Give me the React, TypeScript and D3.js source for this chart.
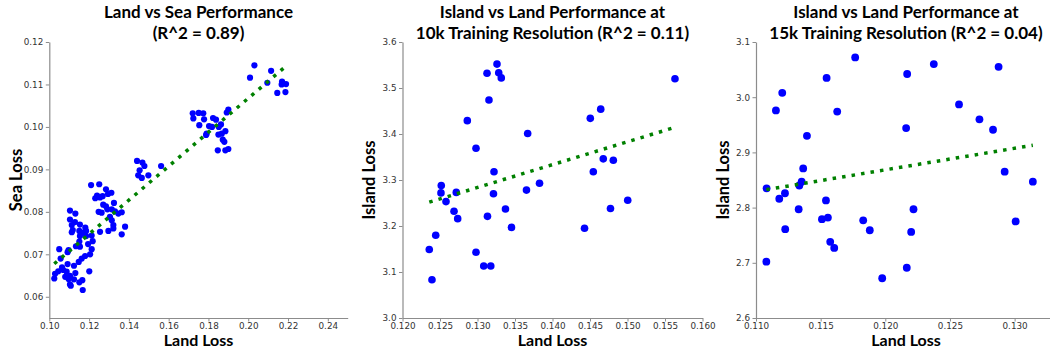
import React, { useEffect, useRef } from 'react';
import * as d3 from 'd3';

// Panel 1: land vs sea loss
const landLoss1 = [
  0.2031, 0.2009, 0.2115, 0.2096, 0.2170, 0.2190, 0.2168, 0.2146, 0.2187,
  0.1721, 0.1751, 0.1774, 0.1724, 0.1778, 0.1754, 0.1803, 0.1823, 0.1838, 0.1818, 0.1863, 0.1852,
  0.1791, 0.1788, 0.1850, 0.1867, 0.1885, 0.1872, 0.1880, 0.1847, 0.1885, 0.1900, 0.1900, 0.1892,
  0.1441, 0.1468, 0.1478, 0.1454, 0.1447, 0.1465, 0.1498, 0.1562,
  0.1210, 0.1251, 0.1285, 0.1240, 0.1231, 0.1255, 0.1295, 0.1312, 0.1268, 0.1325, 0.1271, 0.1285,
  0.1248, 0.1263, 0.1292, 0.1314, 0.1330, 0.1364, 0.1305, 0.1314, 0.1322, 0.1322, 0.1297, 0.1255,
  0.1381, 0.1364, 0.1347,
  0.1104, 0.1131, 0.1104, 0.1129, 0.1154, 0.1181, 0.1113, 0.1118, 0.1113, 0.1151, 0.1168, 0.1185,
  0.1154, 0.1185, 0.1213, 0.1218, 0.1195, 0.1151, 0.1134, 0.1154, 0.1213, 0.1097, 0.1050, 0.1092,
  0.1057, 0.1205, 0.1180, 0.1163, 0.1148, 0.1092, 0.1124, 0.1064, 0.1070, 0.1087, 0.1045, 0.1029,
  0.1080, 0.1104, 0.1131, 0.1201, 0.1025, 0.1097, 0.1124, 0.1166, 0.1104, 0.1108, 0.1151, 0.1168,
];
const seaLoss1 = [
  0.1145, 0.1116, 0.1132, 0.1104, 0.1107, 0.1101, 0.1100, 0.1080, 0.1082,
  0.1032, 0.1033, 0.1032, 0.1020, 0.1018, 0.1004, 0.1002, 0.1021, 0.1017, 0.1000, 0.1006, 0.1000,
  0.0984, 0.0981, 0.0982, 0.0984, 0.0990, 0.0970, 0.0965, 0.0945, 0.0945, 0.0948, 0.1041, 0.1034,
  0.0920, 0.0916, 0.0908, 0.0898, 0.0886, 0.0880, 0.0886, 0.0908,
  0.0863, 0.0865, 0.0853, 0.0838, 0.0832, 0.0834, 0.0842, 0.0845, 0.0837, 0.0821, 0.0817, 0.0813,
  0.0800, 0.0798, 0.0806, 0.0806, 0.0801, 0.0799, 0.0788, 0.0780, 0.0769, 0.0761, 0.0755, 0.0753,
  0.0765, 0.0747, 0.0796,
  0.0803, 0.0796, 0.0782, 0.0776, 0.0770, 0.0763, 0.0769, 0.0757, 0.0752, 0.0755, 0.0751, 0.0755,
  0.0743, 0.0743, 0.0744, 0.0731, 0.0724, 0.0730, 0.0719, 0.0718, 0.0712, 0.0710, 0.0712, 0.0705,
  0.0690, 0.0700, 0.0696, 0.0690, 0.0682, 0.0677, 0.0673, 0.0669, 0.0663, 0.0659, 0.0660, 0.0654,
  0.0647, 0.0649, 0.0656, 0.0660, 0.0643, 0.0642, 0.0641, 0.0639, 0.0629, 0.0626, 0.0634, 0.0616,
];

// Panel 2: island vs land at 10k
const landLoss2 = [
  0.13260, 0.13127, 0.13283, 0.13317, 0.13153, 0.12864, 0.12980, 0.13669, 0.15633, 0.14504,
  0.14643, 0.14677, 0.14811, 0.13220, 0.14544, 0.12517, 0.12513, 0.12580, 0.12717, 0.12687,
  0.12736, 0.12443, 0.12357, 0.12393, 0.12980, 0.13083, 0.13177, 0.13133, 0.13213, 0.13373,
  0.13453, 0.13653, 0.13827, 0.14427, 0.14773, 0.15003,
];
const islandLoss2 = [
  3.552, 3.532, 3.533, 3.522, 3.474, 3.429, 3.369, 3.401, 3.520, 3.434,
  3.454, 3.346, 3.343, 3.318, 3.318, 3.288, 3.272, 3.253, 3.273, 3.232,
  3.216, 3.180, 3.149, 3.083, 3.143, 3.113, 3.113, 3.221, 3.270, 3.237,
  3.197, 3.278, 3.293, 3.195, 3.238, 3.256,
];

// Panel 3: island vs land at 15k
const landLoss3 = [
  0.11154, 0.11203, 0.11394, 0.11365, 0.11546, 0.11628, 0.11767, 0.12169, 0.12161, 0.12375,
  0.12570, 0.12728, 0.12833, 0.12876, 0.12923, 0.11082, 0.11353, 0.11335, 0.11224, 0.11180,
  0.11330, 0.11226, 0.11080, 0.11541, 0.11510, 0.11556, 0.11574, 0.11605, 0.11829, 0.11880,
  0.11976, 0.12166, 0.12218, 0.12200, 0.13008, 0.13141,
];
const islandLoss3 = [
  2.976, 3.008, 2.930, 2.871, 3.035, 2.974, 3.072, 3.042, 2.944, 3.060,
  2.987, 2.960, 2.941, 3.055, 2.865, 2.835, 2.847, 2.840, 2.826, 2.816,
  2.797, 2.761, 2.702, 2.813, 2.779, 2.782, 2.738, 2.727, 2.777, 2.759,
  2.672, 2.691, 2.797, 2.756, 2.775, 2.847,
];

const titles = [
  ['Land vs Sea Performance', '(R^2 = 0.89)'],
  ['Island vs Land Performance at', '10k Training Resolution (R^2 = 0.11)'],
  ['Island vs Land Performance at', '15k Training Resolution (R^2 = 0.04)'],
];
const yLabels = ['Sea Loss', 'Island Loss', 'Island Loss'];
const xLabel = 'Land Loss';

const xTicks1 = [0.10, 0.12, 0.14, 0.16, 0.18, 0.20, 0.22, 0.24];
const yTicks1 = [0.06, 0.07, 0.08, 0.09, 0.10, 0.11, 0.12];
const xTicks2 = [0.120, 0.125, 0.130, 0.135, 0.140, 0.145, 0.150, 0.155, 0.160];
const yTicks2 = [3.0, 3.1, 3.2, 3.3, 3.4, 3.5, 3.6];
const xTicks3 = [0.110, 0.115, 0.120, 0.125, 0.130];
const yTicks3 = [2.6, 2.7, 2.8, 2.9, 3.0, 3.1];

const panels = [
  { xs: landLoss1, ys: seaLoss1, xDomain: [0.10, 0.25], yDomain: [0.055, 0.12], xTicks: xTicks1, yTicks: yTicks1, xFmt: '.2f', yFmt: '.2f', left: 49.3, width: 298.4, r: 3.1 },
  { xs: landLoss2, ys: islandLoss2, xDomain: [0.12, 0.16], yDomain: [3.0, 3.6], xTicks: xTicks2, yTicks: yTicks2, xFmt: '.3f', yFmt: '.1f', left: 402.5, width: 300, r: 3.8 },
  { xs: landLoss3, ys: islandLoss3, xDomain: [0.11, 0.1332], yDomain: [2.6, 3.1], xTicks: xTicks3, yTicks: yTicks3, xFmt: '.3f', yFmt: '.1f', left: 756, width: 300, r: 3.9 },
];

const top = 42, bottom = 318;
const boldFont = 'Lato, sans-serif';

// least squares fit
function fit(xs: number[], ys: number[]) {
  const mx = d3.mean(xs)!, my = d3.mean(ys)!;
  let sxy = 0, sxx = 0;
  xs.forEach((x, i) => { sxy += (x - mx) * (ys[i] - my); sxx += (x - mx) * (x - mx); });
  const slope = sxy / sxx;
  return { slope, intercept: my - slope * mx };
}

const App = () => {
  const ref = useRef<SVGSVGElement>(null);

  useEffect(() => {
    const svg = d3.select(ref.current);
    svg.selectAll('*').remove();

    panels.forEach((p, k) => {
      const x = d3.scaleLinear().domain(p.xDomain).range([p.left, p.left + p.width]);
      const y = d3.scaleLinear().domain(p.yDomain).range([bottom, top]);
      const g = svg.append('g');

      const xAxis = g.append('g')
        .attr('transform', `translate(0,${bottom})`)
        .call(d3.axisBottom(x).tickValues(p.xTicks).tickFormat(d3.format(p.xFmt)).tickSize(3.5).tickPadding(1.5).tickSizeOuter(0));
      const yAxis = g.append('g')
        .attr('transform', `translate(${p.left},0)`)
        .call(d3.axisLeft(y).tickValues(p.yTicks).tickFormat(d3.format(p.yFmt)).tickSize(3.5).tickPadding(2.5).tickSizeOuter(0));
      [xAxis, yAxis].forEach(a => {
        a.select('.domain').attr('stroke', '#8c8c8c').attr('stroke-width', 1.2);
        a.selectAll('.tick line').attr('stroke', '#8c8c8c');
        a.selectAll('.tick text').attr('fill', '#333').style('font-family', 'DejaVu Sans').style('font-size', '8.8px');
      });

      g.append('g').selectAll('circle')
        .data(p.xs)
        .enter().append('circle')
        .attr('cx', d => x(d))
        .attr('cy', (d, i) => y(p.ys[i]))
        .attr('r', p.r)
        .attr('fill', '#0000ff');

      const { slope, intercept } = fit(p.xs, p.ys);
      const [x0, x1] = d3.extent(p.xs) as [number, number];
      const line = d3.line<number>().x(d => x(d)).y(d => y(slope * d + intercept));
      g.append('path')
        .datum([x0, x1])
        .attr('d', line)
        .attr('fill', 'none')
        .attr('stroke', '#008000')
        .attr('stroke-width', 3.5)
        .attr('stroke-dasharray', '3.5 6.1');

      const cx = p.left + p.width / 2;
      titles[k].forEach((t, j) => {
        g.append('text')
          .attr('x', cx)
          .attr('y', 18 + j * 20.5)
          .attr('text-anchor', 'middle')
          .style('font-family', boldFont)
          .style('font-weight', 700)
          .style('font-size', '17px')
          .text(t);
      });

      g.append('text')
        .attr('x', cx)
        .attr('y', 346)
        .attr('text-anchor', 'middle')
        .style('font-family', boldFont)
        .style('font-weight', 700)
        .style('font-size', '16px')
        .text(xLabel);

      g.append('text')
        .attr('transform', `translate(${p.left - 27.5},${(top + bottom) / 2}) rotate(-90)`)
        .attr('text-anchor', 'middle')
        .style('font-family', boldFont)
        .style('font-weight', 700)
        .style('font-size', '16.5px')
        .text(yLabels[k]);
    });
  }, []);

  return (
    <svg ref={ref} width={1050} height={350}
      style={{ position: 'absolute', left: 0, top: 0, background: '#fff' }} />
  );
};

export default App;
